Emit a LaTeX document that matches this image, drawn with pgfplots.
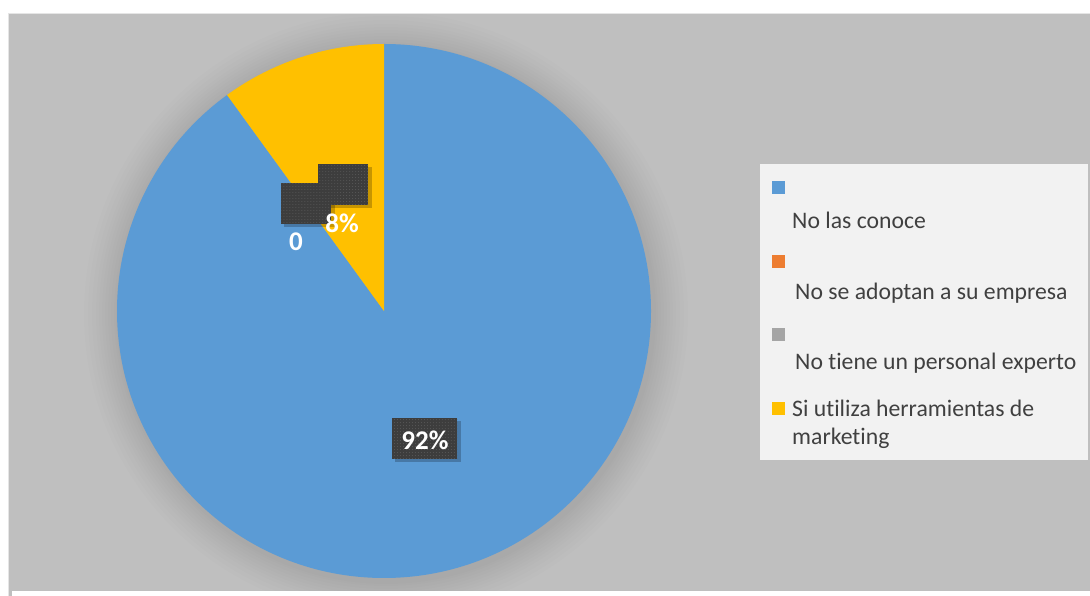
\documentclass[border=0pt]{standalone}
\usepackage{fontspec}
\setmainfont{Carlito}[Ligatures=NoCommon]
\usepackage{pgfplots}
\pgfplotsset{compat=1.18}
\usepackage{pgfplotstable}
\usetikzlibrary{patterns}
\definecolor{cBlue}{HTML}{5B9BD5}
\definecolor{cOrange}{HTML}{ED7D31}
\definecolor{cGrey}{HTML}{A5A5A5}
\definecolor{cYellow}{HTML}{FFC000}
\definecolor{cBg}{HTML}{BFBFBF}
\definecolor{cLeg}{HTML}{F2F2F2}
\definecolor{cTxt}{HTML}{404040}
\definecolor{cBox}{HTML}{3D3D3D}
\definecolor{cDot}{HTML}{5A5A5A}

% share = sector size as drawn (percent of circle); label = printed label
\pgfplotstableread{
cat share label
1 90 92
2 0 0
3 0 0
4 10 8
}\piedata
\pgfplotstablegetelem{0}{share}\of\piedata \xdef\sA{\pgfplotsretval}%
\pgfplotstablegetelem{3}{share}\of\piedata \xdef\sD{\pgfplotsretval}%
\pgfplotstablegetelem{0}{label}\of\piedata \xdef\lA{\pgfplotsretval}%
\pgfplotstablegetelem{3}{label}\of\piedata \xdef\lD{\pgfplotsretval}%
\pgfmathsetmacro\aEnd{90-3.6*\sA}\xdef\aEnd{\aEnd}%
\pgfmathsetmacro\dEnd{\aEnd-3.6*\sD}\xdef\dEnd{\dEnd}%

\begin{document}%
\begin{tikzpicture}
\begin{axis}[
  width=1090bp, height=596bp, scale only axis,
  xmin=0, xmax=1090, ymin=0, ymax=596,
  hide axis, clip=false,
]
\addplot[draw=none, forget plot] coordinates {(0,0) (1090,596)};
% background
\fill[white] (axis cs:0,0) rectangle (axis cs:1090,596);
\fill[cBg] (axis cs:8,0) rectangle (axis cs:1090,582);
\draw[gray!20, line width=1bp] (axis cs:8,0) -- (axis cs:8,582) -- (axis cs:1090,582);
% pie soft shadow (clipped to the chart area)
\begin{scope}
\clip (axis cs:9,5) rectangle (axis cs:1090,581);
\fill[black, opacity=0.009] (axis cs:386,282) circle[radius=302bp];
\fill[black, opacity=0.009] (axis cs:386,282) circle[radius=298bp];
\fill[black, opacity=0.009] (axis cs:386,282) circle[radius=294bp];
\fill[black, opacity=0.009] (axis cs:386,282) circle[radius=290bp];
\fill[black, opacity=0.009] (axis cs:386,282) circle[radius=287bp];
\fill[black, opacity=0.009] (axis cs:386,282) circle[radius=284bp];
\fill[black, opacity=0.009] (axis cs:386,282) circle[radius=281bp];
\fill[black, opacity=0.009] (axis cs:386,282) circle[radius=278bp];
\fill[black, opacity=0.009] (axis cs:386,282) circle[radius=275bp];
\fill[black, opacity=0.009] (axis cs:386,282) circle[radius=272bp];
\fill[black, opacity=0.009] (axis cs:386,282) circle[radius=270bp];
\end{scope}
\fill[white] (axis cs:12,0) rectangle (axis cs:1090,5);
% pie slices
\fill[cBlue] (axis cs:384,285) -- ++(90:267bp) arc[start angle=90, end angle=\aEnd, radius=267bp] -- cycle;
\fill[cYellow] (axis cs:384,285) -- ++(\aEnd:267bp) arc[start angle=\aEnd, end angle=\dEnd, radius=267bp] -- cycle;
% label box shadows
\fill[black, opacity=0.22] (axis cs:321,388) rectangle (axis cs:372,429);
\fill[black, opacity=0.22] (axis cs:284,369) rectangle (axis cs:335,410);
\fill[black, opacity=0.22] (axis cs:395,134) rectangle (axis cs:461,175);
% label boxes
\fill[cBox] (axis cs:318,391) rectangle (axis cs:368,432);
\fill[pattern=dots, pattern color=cDot] (axis cs:318,391) rectangle (axis cs:368,432);
\fill[cBox] (axis cs:281,372) rectangle (axis cs:331,413);
\fill[pattern=dots, pattern color=cDot] (axis cs:281,372) rectangle (axis cs:331,413);
\fill[cBox] (axis cs:392,137) rectangle (axis cs:457,178);
\fill[pattern=dots, pattern color=cDot] (axis cs:392,137) rectangle (axis cs:457,178);
\node[white, font=\fontsize{27bp}{30bp}\selectfont\bfseries] at (axis cs:425,156) {\lA\%};
\node[white, font=\fontsize{27bp}{30bp}\selectfont\bfseries] at (axis cs:342,373) {\lD\%};
\node[white, font=\fontsize{27bp}{30bp}\selectfont\bfseries] at (axis cs:296,354) {0};
% legend
\fill[cLeg] (axis cs:760,136) rectangle (axis cs:1088,432);
\fill[cBlue] (axis cs:772,402) rectangle (axis cs:785,415);
\fill[cOrange] (axis cs:772,328) rectangle (axis cs:785,341);
\fill[cGrey] (axis cs:772,255) rectangle (axis cs:785,268);
\fill[cYellow] (axis cs:772,181) rectangle (axis cs:785,194);
\node[anchor=base west, inner sep=0pt, text=cTxt, font=\fontsize{23.7bp}{26bp}\selectfont] at (axis cs:792,367) {No las conoce};
\node[anchor=base west, inner sep=0pt, text=cTxt, font=\fontsize{23.7bp}{26bp}\selectfont] at (axis cs:795,296) {No se adoptan a su empresa};
\node[anchor=base west, inner sep=0pt, text=cTxt, font=\fontsize{23.7bp}{26bp}\selectfont] at (axis cs:795,226) {No tiene un personal experto};
\node[anchor=base west, inner sep=0pt, text=cTxt, font=\fontsize{23.7bp}{26bp}\selectfont] at (axis cs:792,179) {Si utiliza herramientas de};
\node[anchor=base west, inner sep=0pt, text=cTxt, font=\fontsize{23.7bp}{26bp}\selectfont] at (axis cs:792,151) {marketing};
\end{axis}
\pgfresetboundingbox
\path[use as bounding box] (0,0) rectangle (1090bp,596bp);
\end{tikzpicture}%
\end{document}
